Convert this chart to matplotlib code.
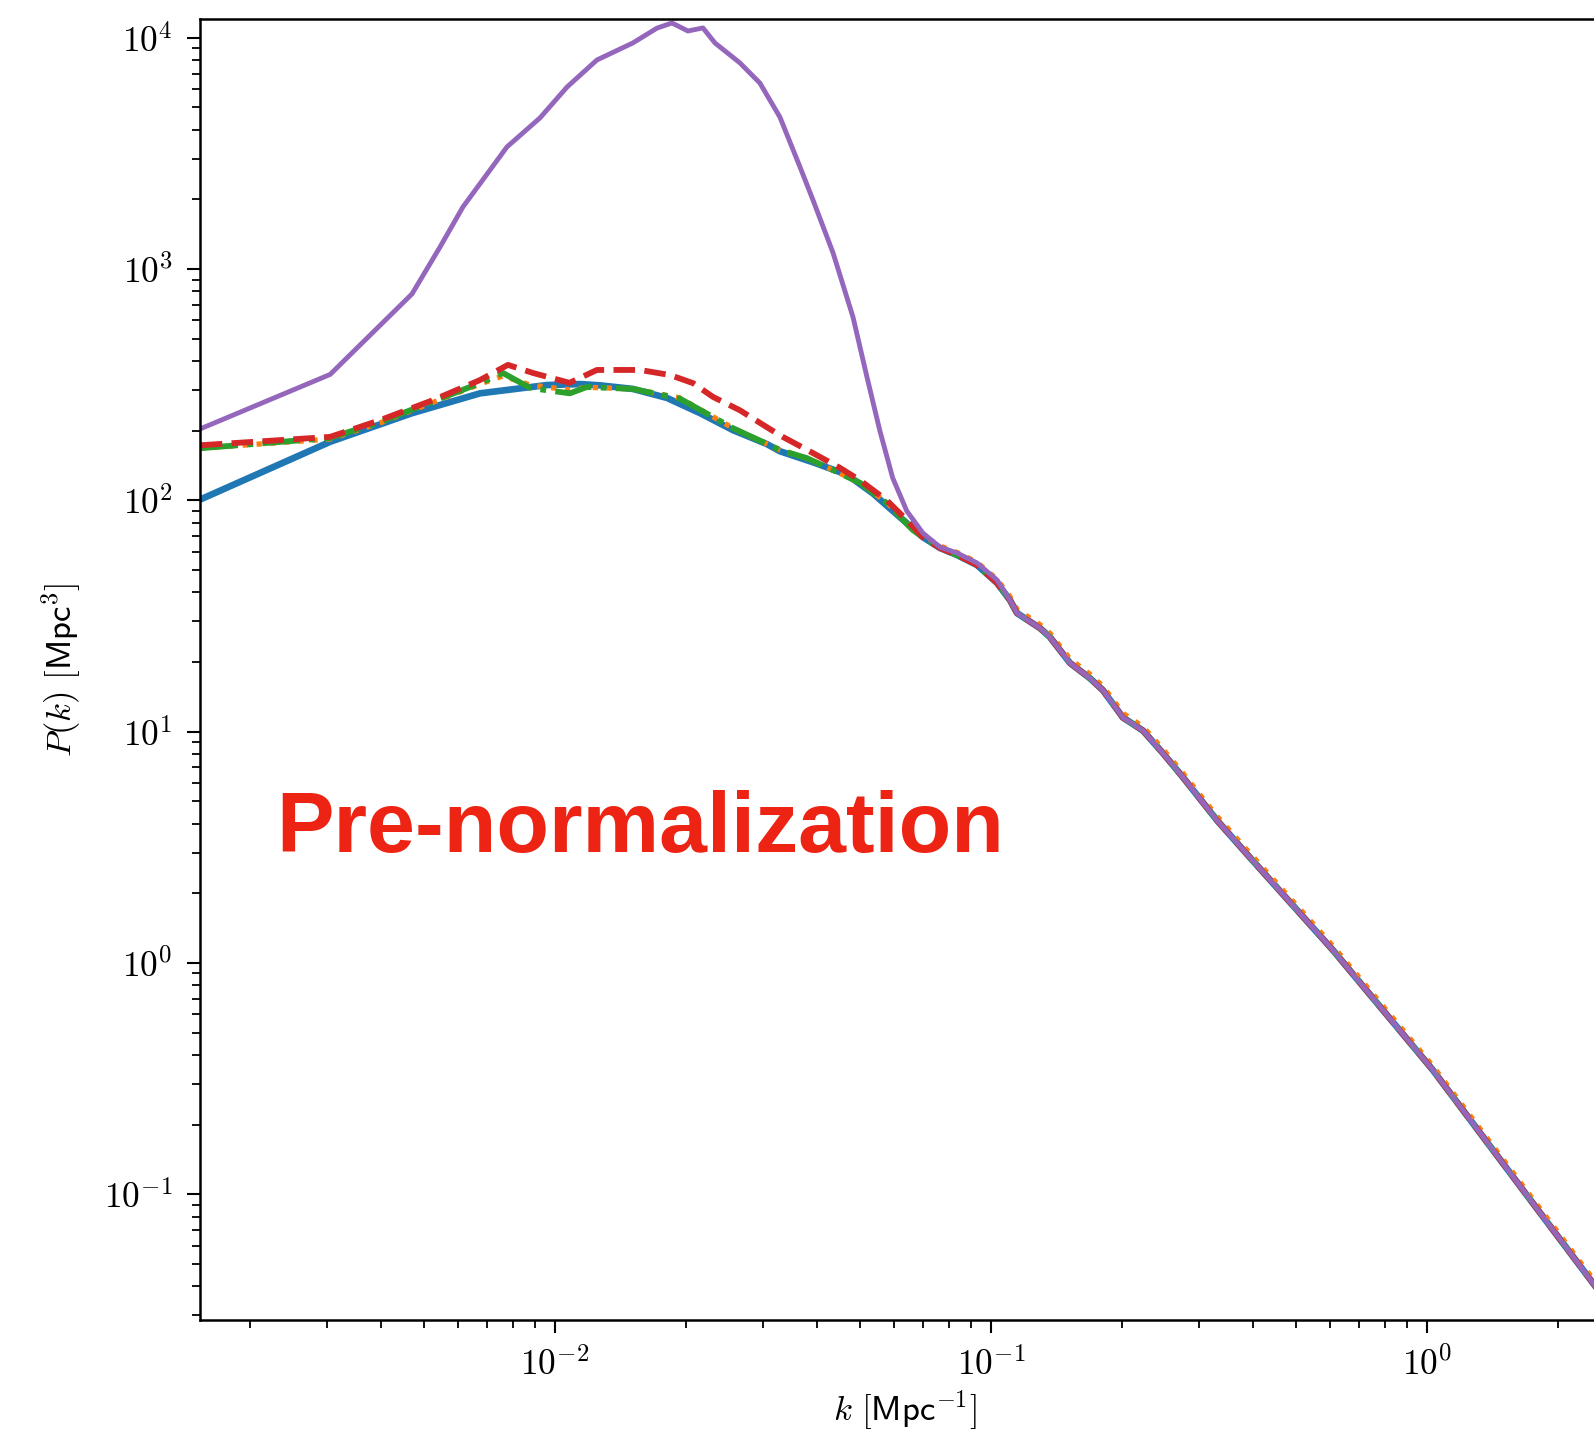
import numpy as np
import matplotlib
matplotlib.use("Agg")
import matplotlib.pyplot as plt
from matplotlib.ticker import FuncFormatter, LogLocator, NullFormatter

plt.rcParams['mathtext.fontset'] = 'cm'

# --- data (k in 1/Mpc, P in Mpc^3) ---
# shared high-k tail where all curves converge
k_tail = [0.0698, 0.0764, 0.0836, 0.0929, 0.1033, 0.1106, 0.1148, 0.1296, 0.1366,
          0.1518, 0.1687, 0.1806, 0.2008, 0.2232, 0.248, 0.2756, 0.3298, 0.3924,
          0.6083, 1.032, 1.75, 2.6]
p_tail = [69.3, 62.2, 58.0, 52.5, 43.9, 37.0, 32.5, 28.0, 25.6,
          19.8, 17.0, 15.1, 11.5, 10.1, 8.07, 6.35, 4.14, 2.86,
          1.137, 0.344, 0.0914, 0.0339]
p_tail_orange = [70.5, 63.5, 59.5, 54.0, 45.5, 38.3, 33.7, 29.0, 26.6,
                 20.6, 17.7, 15.7, 12.0, 10.5, 8.40, 6.61, 4.31, 2.98,
                 1.185, 0.358, 0.0952, 0.0353]

# linear theory (blue)
k_lin = [0.00154, 0.00305, 0.0047, 0.00673, 0.00959, 0.01141, 0.01268, 0.01509,
         0.01807, 0.02153, 0.02561, 0.03062, 0.0328, 0.03907, 0.04677, 0.05363, 0.06177]
p_lin = [101, 179, 238, 290, 315, 318, 314, 303,
         277, 238, 201, 175, 163, 146, 129, 107, 84.7]

# orange (dotted)
k_org = [0.00154, 0.00305, 0.00397, 0.00673, 0.0076, 0.00877, 0.01082, 0.01184,
         0.01509, 0.01935, 0.02561, 0.0328, 0.03787, 0.04345, 0.05008, 0.05768, 0.06618]
p_org = [168, 184, 216, 318, 345, 315, 300, 308,
         303, 277, 205, 165, 152, 135, 119, 98, 75]

# green (dash-dot)
k_grn = [0.00154, 0.00305, 0.00397, 0.00673, 0.0076, 0.00877, 0.01082, 0.01184,
         0.01509, 0.01935, 0.02561, 0.0328, 0.03787, 0.04345, 0.05008, 0.05768, 0.06618]
p_grn = [168, 186, 218, 321, 355, 306, 290, 309,
         303, 275, 205, 165, 152, 135, 119, 97.3, 74.4]

# red (dashed)
k_red = [0.00154, 0.00305, 0.00397, 0.00525, 0.00673, 0.0078, 0.00891, 0.0108,
         0.01248, 0.01567, 0.01836, 0.02073, 0.02303, 0.02656, 0.03062, 0.03331,
         0.03907, 0.04508, 0.05008, 0.05768, 0.0641]
p_red = [173, 188, 222, 271, 331, 385, 355, 322,
         366, 366, 348, 321, 280, 245, 207, 188,
         160, 138, 122, 100, 82.2]

# purple (solid, big bump)
k_pur = [0.00154, 0.00305, 0.0047, 0.00545, 0.00615, 0.00776, 0.00924, 0.01066,
         0.01248, 0.01509, 0.01714, 0.01855, 0.02018, 0.02185, 0.02328, 0.02656,
         0.02951, 0.0328, 0.03648, 0.03907, 0.04345, 0.04826, 0.05198, 0.05561,
         0.05952, 0.0641]
p_pur = [204, 350, 780, 1245, 1854, 3370, 4500, 6120,
         8010, 9490, 11000, 11580, 10690, 11020, 9490, 7780,
         6370, 4540, 2760, 1987, 1172, 620, 340, 200,
         125, 90]
k_pur_tail = [0.06979, 0.07635, 0.08356, 0.0929, 0.1033, 0.1106]
p_pur_tail = [72.2, 62.8, 59.2, 53.6, 45.2, 37.0]

fig = plt.figure(figsize=(15.94, 14.32), dpi=100)
W, H = 1594, 1432
ax = fig.add_axes([200 / W, (H - 1320) / H, 1410 / W, 1301 / H])

lw = 4.2
ax.plot(k_lin + k_tail, p_lin + p_tail, color='#1f77b4', lw=lw + 0.6)
ax.plot(k_org + k_tail, p_org + p_tail_orange, color='#ff7f0e', lw=3.8, ls=':')
ax.plot(k_grn + k_tail, p_grn + p_tail, color='#2ca02c', lw=lw, ls='-.')
ax.plot(k_red + k_tail, p_red + p_tail, color='#d62728', lw=lw, ls='--')
ax.plot(k_pur + k_pur_tail + k_tail[6:], p_pur + p_pur_tail + p_tail[6:],
        color='#9467bd', lw=3.5)

ax.set_xscale('log')
ax.set_yscale('log')
ax.set_xlim(0.001534, 2.63)
ax.set_ylim(0.02858, 12045)

fmt = FuncFormatter(lambda v, pos: r'$10^{%d}$' % int(round(np.log10(v))))
for axis in (ax.xaxis, ax.yaxis):
    axis.set_major_locator(LogLocator(base=10, numticks=20))
    axis.set_minor_locator(LogLocator(base=10, subs=np.arange(2, 10), numticks=20))
    axis.set_major_formatter(fmt)
    axis.set_minor_formatter(NullFormatter())

ax.tick_params(which='major', length=9.5, width=1.5, labelsize=25.5, pad=10, direction='out')
ax.tick_params(which='minor', length=5.5, width=1.3, direction='out')
ax.tick_params(top=False, right=False, which='both')
for s in ax.spines.values():
    s.set_linewidth(1.8)

ax.set_ylabel(r'$P(k)\ [\mathsf{Mpc}^3]$', fontsize=25)
ax.set_xlabel(r'$k\ [\mathsf{Mpc}^{-1}]$', fontsize=25)
ax.yaxis.set_label_coords(-0.083, 0.5)
ax.xaxis.set_label_coords(0.5, -0.053)

fig.text(276 / W, 1 - 852 / H, 'Pre-normalization', color='#ED2313',
         fontsize=62, fontweight='bold', family='Liberation Sans',
         ha='left', va='baseline')

fig.savefig('out.png', dpi=100)
